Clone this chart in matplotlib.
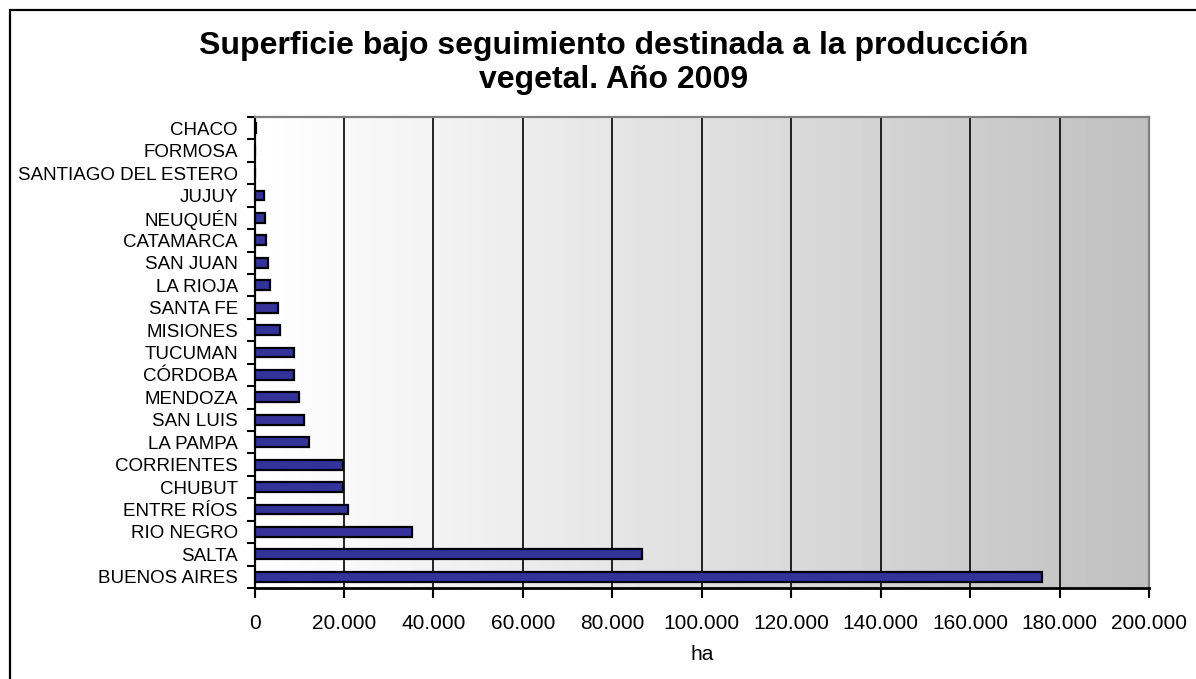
import numpy as np
import matplotlib
matplotlib.use("Agg")
import matplotlib.pyplot as plt
from matplotlib.patches import Rectangle
from matplotlib.ticker import FuncFormatter, FixedLocator

provincias = ["BUENOS AIRES", "SALTA", "RIO NEGRO", "ENTRE RÍOS", "CHUBUT",
              "CORRIENTES", "LA PAMPA", "SAN LUIS", "MENDOZA", "CÓRDOBA",
              "TUCUMAN", "MISIONES", "SANTA FE", "LA RIOJA", "SAN JUAN",
              "CATAMARCA", "NEUQUÉN", "JUJUY", "SANTIAGO DEL ESTERO",
              "FORMOSA", "CHACO"]
hectareas = [176000, 86600, 35200, 21000, 19800,
             19800, 12100, 11100, 9900, 8900,
             8900, 5800, 5300, 3500, 3100,
             2600, 2300, 2200, 100,
             100, 300]
x_ticks = [0, 20000, 40000, 60000, 80000, 100000, 120000, 140000, 160000, 180000, 200000]

titulo = "Superficie bajo seguimiento destinada a la producción\nvegetal. Año 2009"
eje_x = "ha"

FAM = ["Liberation Sans", "DejaVu Sans"]

W, H = 1196, 679
fig = plt.figure(figsize=(W / 100, H / 100), dpi=100)
fig.patch.set_facecolor("white")

# chart frame
fig.add_artist(Rectangle((10 / W, -0.05), 1.2, 1 - 10 / H + 0.05, transform=fig.transFigure,
                         fill=False, edgecolor="black", linewidth=1.6))

ax = fig.add_axes([254.5 / W, 1 - 588 / H, (1149 - 254.5) / W, (588 - 117) / H])

# gradient background
grad = np.linspace(1.0, 0.753, 256).reshape(1, -1)
ax.imshow(grad, cmap="gray", vmin=0, vmax=1, aspect="auto",
          extent=[0, 1, 0, 1], transform=ax.transAxes, zorder=0)

y = np.arange(len(provincias))
ax.barh(y, hectareas, height=0.44, color="#333399", edgecolor="black",
        linewidth=1.6, zorder=3)

ax.set_xlim(0, 200000)
ax.set_ylim(-0.5, len(provincias) - 0.5)

ax.xaxis.set_major_locator(FixedLocator(x_ticks))
ax.xaxis.set_major_formatter(FuncFormatter(lambda v, p: f"{int(v):,}".replace(",", ".")))
ax.grid(axis="x", color="black", linewidth=1.2, zorder=1)
ax.set_axisbelow(True)

ax.set_yticks(y)
ax.set_yticklabels(provincias, family=FAM, fontsize=13.5)
ax.set_yticks(np.arange(-0.5, len(provincias), 1.0), minor=True)
ax.tick_params(axis="y", which="major", length=0, pad=12)
ax.tick_params(axis="y", which="minor", length=6, width=1.5, color="black", direction="out")
ax.tick_params(axis="x", which="major", length=7, width=1.5, color="black", direction="out",
               labelsize=15, pad=12)
for lab in ax.get_xticklabels():
    lab.set_family(FAM)

ax.spines["left"].set_color("black")
ax.spines["left"].set_linewidth(1.6)
ax.spines["bottom"].set_color("black")
ax.spines["bottom"].set_linewidth(2.0)
ax.spines["top"].set_color("#808080")
ax.spines["top"].set_linewidth(1.6)
ax.spines["right"].set_color("#808080")
ax.spines["right"].set_linewidth(1.6)

ax.set_xlabel(eje_x, fontsize=15, family=FAM, labelpad=8)

fig.text(614 / W, 1 - 63 / H, titulo, ha="center", va="center", fontsize=23,
         fontweight="bold", family=FAM, linespacing=1.15)

fig.savefig("out.png", dpi=100)
